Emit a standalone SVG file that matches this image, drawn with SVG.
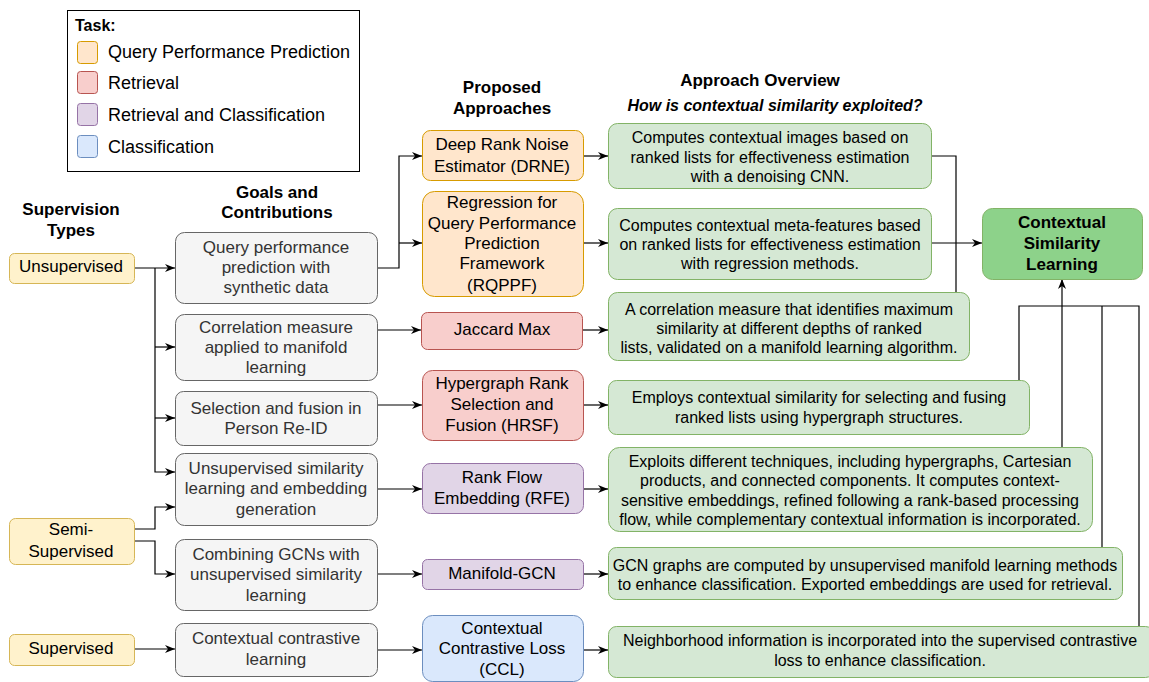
<svg xmlns="http://www.w3.org/2000/svg" width="1149" height="682" viewBox="0 0 1149 682">
  <style>
    text { font-family: "Liberation Sans", Arial, sans-serif; fill: #000; }
    .legend { font-size: 18px; }
    .head { font-size: 17px; font-weight: bold; text-anchor: middle; }
    .sub { font-size: 16px; font-weight: bold; font-style: italic; text-anchor: middle; }
    .sup rect { fill: #fff2cc; stroke: #d6b656; }
    .goal rect { fill: #f5f5f5; stroke: #666666; }
    .goal text { fill: #333333; }
    .t17 { font-size: 17px; text-anchor: middle; }
    .t16 { font-size: 16px; text-anchor: middle; }
    .qpp { fill: #ffe6cc; stroke: #d79b00; }
    .ret { fill: #f8cecc; stroke: #b85450; }
    .rac { fill: #e1d5e7; stroke: #9673a6; }
    .cls { fill: #dae8fc; stroke: #6c8ebf; }
    .ovr rect { fill: #d5e8d4; stroke: #82b366; }
    .edge { fill: none; stroke: #000; stroke-width: 1.2; }
    .arr { marker-end: url(#arrow); }
  </style>
  <defs>
    <marker id="arrow" viewBox="0 0 10 8" markerWidth="10" markerHeight="8" refX="10" refY="4" orient="auto" markerUnits="userSpaceOnUse">
      <path d="M0,0 L10,4 L0,8 L3,4 z" fill="#000"/>
    </marker>
  </defs>

  <rect width="1149" height="682" fill="#ffffff"/>

  <!-- Legend -->
  <g id="legend">
    <rect x="67.5" y="10.5" width="292" height="161" fill="#ffffff" stroke="#000" stroke-width="1"/>
    <text x="75" y="31" font-size="16" font-weight="bold">Task:</text>
    <rect x="77.5" y="41.5" width="20" height="22" rx="3" class="qpp"/>
    <text x="108" y="58" class="legend">Query Performance Prediction</text>
    <rect x="77.5" y="71.5" width="20" height="22" rx="3" class="ret"/>
    <text x="108" y="89" class="legend">Retrieval</text>
    <rect x="77.5" y="103.5" width="20" height="22" rx="3" class="rac"/>
    <text x="108" y="121" class="legend">Retrieval and Classification</text>
    <rect x="77.5" y="135.5" width="20" height="22" rx="3" class="cls"/>
    <text x="108" y="153" class="legend">Classification</text>
  </g>

  <!-- Column headings -->
  <g id="headings">
    <text x="71" y="215" class="head">Supervision</text>
    <text x="71" y="236" class="head">Types</text>
    <text x="277" y="198" class="head">Goals and</text>
    <text x="277" y="218" class="head">Contributions</text>
    <text x="502" y="93" class="head">Proposed</text>
    <text x="502" y="114" class="head">Approaches</text>
    <text x="760" y="86" class="head">Approach Overview</text>
    <text x="775" y="111" class="sub">How is contextual similarity exploited?</text>
  </g>

  <!-- Connectors -->
  <g id="connectors">
    <path class="edge arr" d="M134,268 H175"/>
    <path class="edge arr" d="M155,268 V472 H175"/>
    <path class="edge arr" d="M155,347 H175"/>
    <path class="edge arr" d="M155,418 H175"/>
    <path class="edge arr" d="M134,529 H155 V507 H175"/>
    <path class="edge arr" d="M134,541 H155 V574 H175"/>
    <path class="edge arr" d="M134,649 H175"/>

    <path class="edge arr" d="M377,268 H399 V156 H422"/>
    <path class="edge arr" d="M399,243 H422"/>
    <path class="edge arr" d="M377,330 H421"/>
    <path class="edge arr" d="M377,405 H422"/>
    <path class="edge arr" d="M377,489 H422"/>
    <path class="edge arr" d="M377,574 H422"/>
    <path class="edge arr" d="M377,650 H422"/>

    <path class="edge arr" d="M583,156 H608"/>
    <path class="edge arr" d="M583,243 H608"/>
    <path class="edge arr" d="M582,330 H608"/>
    <path class="edge arr" d="M583,405 H608"/>
    <path class="edge arr" d="M583,489 H608"/>
    <path class="edge arr" d="M583,574 H608"/>
    <path class="edge arr" d="M583,650 H608"/>

    <path class="edge" d="M931,156 H956 V292"/>
    <path class="edge arr" d="M931,243 H982"/>
    <path class="edge" d="M1019,380 V306 H1139 V626"/>
    <path class="edge" d="M1102,547 V306"/>
    <path class="edge arr" d="M1062,447 V279"/>
  </g>

  <!-- Supervision types -->
  <g id="sup-unsupervised" class="sup">
    <rect x="9.5" y="253.5" width="125" height="30" rx="5"/>
    <text x="71" y="272" class="t17">Unsupervised</text>
  </g>
  <g id="sup-semi" class="sup">
    <rect x="9.5" y="518.5" width="125" height="46" rx="6"/>
    <text x="71" y="535" class="t17">Semi-</text>
    <text x="71" y="557" class="t17">Supervised</text>
  </g>
  <g id="sup-supervised" class="sup">
    <rect x="9.5" y="634.5" width="125" height="31" rx="5"/>
    <text x="71" y="654" class="t17">Supervised</text>
  </g>

  <!-- Goals and contributions -->
  <g id="goal-qpp" class="goal">
    <rect x="175.5" y="232.5" width="202" height="71" rx="9"/>
    <text x="276" y="253" class="t17">Query performance</text>
    <text x="276" y="273" class="t17">prediction with</text>
    <text x="276" y="293" class="t17">synthetic data</text>
  </g>
  <g id="goal-correlation" class="goal">
    <rect x="175.5" y="314.5" width="202" height="66" rx="9"/>
    <text x="276" y="333" class="t17">Correlation measure</text>
    <text x="276" y="353" class="t17">applied to manifold</text>
    <text x="276" y="373" class="t17">learning</text>
  </g>
  <g id="goal-reid" class="goal">
    <rect x="175.5" y="391.5" width="202" height="54" rx="8"/>
    <text x="276" y="414" class="t17">Selection and fusion in</text>
    <text x="276" y="434" class="t17">Person Re-ID</text>
  </g>
  <g id="goal-embedding" class="goal">
    <rect x="175.5" y="453.5" width="202" height="72" rx="9"/>
    <text x="276" y="474" class="t17">Unsupervised similarity</text>
    <text x="276" y="494" class="t17">learning and embedding</text>
    <text x="276" y="515" class="t17">generation</text>
  </g>
  <g id="goal-gcn" class="goal">
    <rect x="175.5" y="539.5" width="202" height="71" rx="9"/>
    <text x="276" y="560" class="t17">Combining GCNs with</text>
    <text x="276" y="580" class="t17">unsupervised similarity</text>
    <text x="276" y="601" class="t17">learning</text>
  </g>
  <g id="goal-contrastive" class="goal">
    <rect x="175.5" y="623.5" width="202" height="53" rx="8"/>
    <text x="276" y="644" class="t17">Contextual contrastive</text>
    <text x="276" y="665" class="t17">learning</text>
  </g>

  <!-- Proposed approaches -->
  <g id="app-drne">
    <rect x="422.5" y="130.5" width="161" height="50" rx="8" class="qpp"/>
    <text x="502" y="150" class="t17">Deep Rank Noise</text>
    <text x="502" y="172" class="t17">Estimator (DRNE)</text>
  </g>
  <g id="app-rqppf">
    <rect x="422.5" y="191.5" width="161" height="105" rx="12" class="qpp"/>
    <text x="502" y="208" class="t17">Regression for</text>
    <text x="502" y="229" class="t17">Query Performance</text>
    <text x="502" y="249" class="t17">Prediction</text>
    <text x="502" y="269" class="t17">Framework</text>
    <text x="502" y="291" class="t17">(RQPPF)</text>
  </g>
  <g id="app-jaccard">
    <rect x="421.5" y="312.5" width="161" height="37" rx="6" class="ret"/>
    <text x="502" y="335" class="t17">Jaccard Max</text>
  </g>
  <g id="app-hrsf">
    <rect x="422.5" y="370.5" width="161" height="70" rx="10" class="ret"/>
    <text x="502" y="389" class="t17">Hypergraph Rank</text>
    <text x="502" y="410" class="t17">Selection and</text>
    <text x="502" y="431" class="t17">Fusion (HRSF)</text>
  </g>
  <g id="app-rfe">
    <rect x="422.5" y="463.5" width="161" height="50" rx="8" class="rac"/>
    <text x="502" y="483" class="t17">Rank Flow</text>
    <text x="502" y="504" class="t17">Embedding (RFE)</text>
  </g>
  <g id="app-manifold-gcn">
    <rect x="422.5" y="559.5" width="161" height="30" rx="5" class="rac"/>
    <text x="502" y="579" class="t17">Manifold-GCN</text>
  </g>
  <g id="app-ccl">
    <rect x="422.5" y="615.5" width="161" height="66" rx="10" class="cls"/>
    <text x="502" y="634" class="t17">Contextual</text>
    <text x="502" y="654" class="t17">Contrastive Loss</text>
    <text x="502" y="675" class="t17">(CCL)</text>
  </g>

  <!-- Approach overview -->
  <g id="ovr-drne" class="ovr">
    <rect x="608.5" y="123.5" width="323" height="65" rx="9"/>
    <text x="770" y="143" class="t16">Computes contextual images based on</text>
    <text x="770" y="163" class="t16">ranked lists for effectiveness estimation</text>
    <text x="770" y="182" class="t16">with a denoising CNN.</text>
  </g>
  <g id="ovr-rqppf" class="ovr">
    <rect x="608.5" y="208.5" width="323" height="71" rx="9"/>
    <text x="770" y="231" class="t16">Computes contextual meta-features based</text>
    <text x="770" y="250" class="t16">on ranked lists for effectiveness estimation</text>
    <text x="770" y="269" class="t16">with regression methods.</text>
  </g>
  <g id="ovr-jaccard" class="ovr">
    <rect x="608.5" y="292.5" width="361" height="68" rx="9"/>
    <text x="789" y="315" class="t16">A correlation measure that identifies maximum</text>
    <text x="789" y="334" class="t16">similarity at different depths of ranked</text>
    <text x="789" y="353" class="t16">lists, validated on a manifold learning algorithm.</text>
  </g>
  <g id="ovr-hrsf" class="ovr">
    <rect x="608.5" y="380.5" width="421" height="54" rx="8"/>
    <text x="819" y="403" class="t16">Employs contextual similarity for selecting and fusing</text>
    <text x="819" y="423" class="t16">ranked lists using hypergraph structures.</text>
  </g>
  <g id="ovr-rfe" class="ovr">
    <rect x="608.5" y="447.5" width="484" height="84" rx="11"/>
    <text x="850" y="467" class="t16">Exploits different techniques, including hypergraphs, Cartesian</text>
    <text x="850" y="486" class="t16">products, and connected components. It computes context-</text>
    <text x="850" y="506" class="t16">sensitive embeddings, refined following a rank-based processing</text>
    <text x="850" y="525" class="t16">flow, while complementary contextual information is incorporated.</text>
  </g>
  <g id="ovr-manifold-gcn" class="ovr">
    <rect x="608.5" y="547.5" width="514" height="52" rx="8"/>
    <text x="865" y="571" class="t16">GCN graphs are computed by unsupervised manifold learning methods</text>
    <text x="865" y="590" class="t16">to enhance classification. Exported embeddings are used for retrieval.</text>
  </g>
  <g id="ovr-ccl" class="ovr">
    <rect x="608.5" y="626.5" width="545" height="51" rx="8"/>
    <text x="880" y="646" class="t16">Neighborhood information is incorporated into the supervised contrastive</text>
    <text x="880" y="666" class="t16">loss to enhance classification.</text>
  </g>

  <!-- Target node -->
  <g id="contextual-similarity-learning">
    <rect x="982.5" y="208.5" width="160" height="71" rx="10" fill="#8dd28a" stroke="#82b366"/>
    <text x="1062" y="228" class="head">Contextual</text>
    <text x="1062" y="249" class="head">Similarity</text>
    <text x="1062" y="270" class="head">Learning</text>
  </g>
</svg>
